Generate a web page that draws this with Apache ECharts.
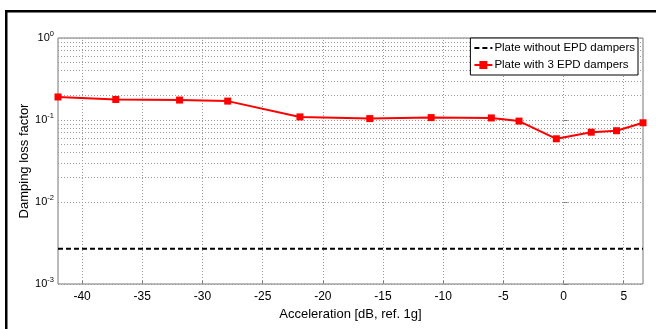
<!DOCTYPE html>
<html><head><meta charset="utf-8">
<script src="https://cdn.jsdelivr.net/npm/echarts@6/dist/echarts.min.js"></script>
<style>html,body{margin:0;padding:0;background:#fff}#c{width:656px;height:329px}</style>
</head><body><div id="c"></div>
<script>
var accel = [-42.0, -37.2, -31.9, -27.9, -21.9, -16.1, -11.0, -6.0, -3.7, -0.6, 2.3, 4.4, 6.6];
var withEPD = [0.191, 0.178, 0.175, 0.170, 0.109, 0.104, 0.107, 0.106, 0.097, 0.059, 0.071, 0.074, 0.0925];
var withoutEPD = [0.0027, 0.0027];
var withoutX = [-42.0, 6.6];
var xTicks = [-40, -35, -30, -25, -20, -15, -10, -5, 0, 5];
var yDecades = [0.001, 0.01, 0.1, 1];
var minorMult = [2, 3, 4, 5, 6, 7, 8, 9];

var minorVals = [];
for (var d = 0; d < 3; d++) for (var m = 0; m < minorMult.length; m++) minorVals.push(yDecades[d] * minorMult[m]);
var gridStyle = {color: '#9a9a9a', width: 1, type: [1, 2]};
var markData = minorVals.map(function (v) { return {yAxis: v}; })
  .concat(xTicks.map(function (v) { return {xAxis: v}; }));
var FF = 'Liberation Sans, Arial, sans-serif';

var chart = echarts.init(document.getElementById('c'));
chart.setOption({
  animation: false,
  textStyle: {fontFamily: FF},
  graphic: [
    {type: 'rect', shape: {x: 5, y: 10, width: 651, height: 2.5}, style: {fill: '#000'}, z: 100},
    {type: 'rect', shape: {x: 5, y: 10, width: 2.5, height: 319}, style: {fill: '#000'}, z: 100}
  ],
  grid: {left: 58, right: 13, top: 38, bottom: 45, show: true, borderColor: '#777', borderWidth: 1},
  legend: {
    right: 18, top: 38, orient: 'vertical', itemGap: 5, itemWidth: 18, itemHeight: 10,
    align: 'left',
    backgroundColor: '#fff', borderColor: '#000', borderWidth: 1, padding: [4, 3, 4, 3],
    textStyle: {fontSize: 11.5, color: '#000', fontFamily: FF, padding: [0, 0, 0, -3]},
    data: [
      {name: 'Plate without EPD dampers', itemStyle: {opacity: 0}},
      {name: 'Plate with 3 EPD dampers'}
    ]
  },
  xAxis: {
    type: 'value', min: accel[0], max: accel[accel.length - 1],
    name: 'Acceleration [dB, ref. 1g]', nameLocation: 'middle', nameGap: 24,
    nameTextStyle: {fontSize: 13, color: '#000'},
    axisLine: {show: false},
    axisTick: {show: true, inside: true, length: 4, lineStyle: {color: '#777'}, customValues: xTicks},
    axisLabel: {customValues: xTicks, fontSize: 12, color: '#000', margin: 7},
    splitLine: {show: false}
  },
  yAxis: {
    type: 'log', logBase: 10, min: 0.001, max: 1,
    name: 'Damping loss factor', nameLocation: 'middle', nameGap: 27, nameMoveOverlap: false,
    nameTextStyle: {fontSize: 13, color: '#000'},
    axisLine: {show: false},
    axisTick: {show: true, inside: true, length: 4, lineStyle: {color: '#777'}},
    splitLine: {show: true, lineStyle: gridStyle},
    axisLabel: {
      fontSize: 11, color: '#000', margin: 4,
      formatter: function (v) { return '{b|10}{s|' + Math.round(Math.log10(v)) + '}'; },
      rich: {
        b: {fontSize: 11, color: '#000', fontFamily: FF},
        s: {fontSize: 7.5, color: '#000', verticalAlign: 'top', padding: [0, 0, 8, 0], fontFamily: FF}
      }
    }
  },
  series: [
    {
      name: 'Plate without EPD dampers', type: 'line', symbol: 'none',
      data: withoutX.map(function (x, i) { return [x, withoutEPD[i]]; }),
      lineStyle: {color: '#000', width: 2, type: [5, 3]}, itemStyle: {color: '#000'},
      markLine: {silent: true, symbol: 'none', label: {show: false}, lineStyle: gridStyle, data: markData, z: 1}
    },
    {
      name: 'Plate with 3 EPD dampers', type: 'line', symbol: 'rect', symbolSize: 7,
      data: accel.map(function (x, i) { return [x, withEPD[i]]; }),
      lineStyle: {color: '#ff0000', width: 2}, itemStyle: {color: '#ff0000'}, z: 5
    }
  ]
});
</script></body></html>
